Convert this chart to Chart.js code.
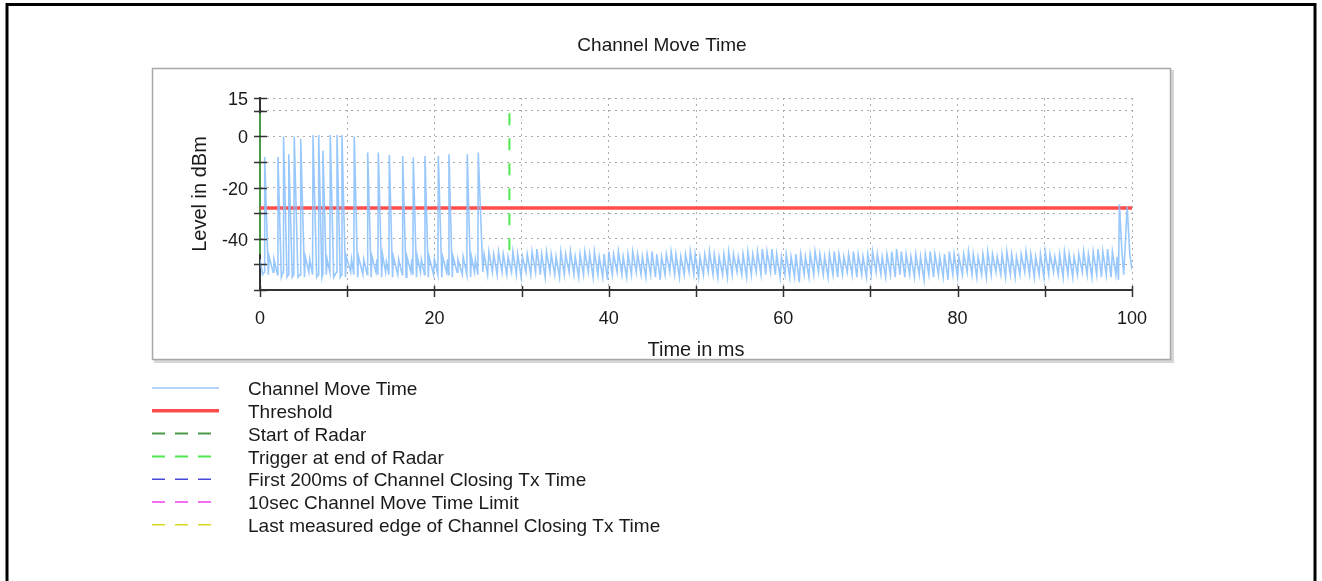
<!DOCTYPE html>
<html>
<head>
<meta charset="utf-8">
<script src="https://cdn.jsdelivr.net/npm/chart.js@4.4.1/dist/chart.umd.min.js"></script>
<style>
  html, body { margin: 0; padding: 0; background: #fff; }
  #wrap { position: relative; width: 1322px; height: 581px; }
</style>
</head>
<body>
<div id="wrap"><canvas id="chart" width="1322" height="581"></canvas></div>
<script>
// --- data ---
const chartTitle = "Channel Move Time";
const xTitle = "Time in ms";
const yTitle = "Level in dBm";
const xTickValues = [0, 10, 20, 30, 40, 50, 60, 70, 80, 90, 100];
const xLabelValues = [0, 20, 40, 60, 80, 100];
const yTickValues = [15, 10, 0, -10, -20, -30, -40, -50, -60];
const yLabelValues = [15, 0, -20, -40];
const thresholdLevel = -28;
const startOfRadarMs = 0;
const triggerMs = 28.6;
const markerTop = 9;
const markerBottom = -46;

// [time ms, level dBm]
const trace = [
  [0,-48],[0.3,-54],[0.49,-53],[0.54,-8],[0.95,-54],[1.05,-47],[1.5,-53],[1.6,-48],[2.01,-54],[2.06,-8],
  [2.45,-55],[2.65,-53],[2.7,0],[3.1,-55],[3.25,-54],[3.3,-7],[3.7,-55],[3.88,-54],[3.93,0],[4.35,-55],
  [4.62,-54],[4.67,-1],[5.1,-55],[5.2,-47],[5.6,-53],[5.7,-48],[6.03,-54],[6.08,0.5],[6.5,-55],[6.68,-54],
  [6.73,0.5],[7.1,-55],[7.17,-54],[7.22,-5.5],[7.6,-54],[7.7,-48],[8.01,-53],[8.06,0.5],[8.45,-55],[8.78,-53],
  [8.83,0.5],[9.2,-55],[9.35,-54],[9.4,0.5],[9.8,-55],[9.9,-47],[10.4,-53],[10.5,-48],[10.76,-54],[10.81,0],
  [11.2,-55],[11.3,-47],[11.8,-54],[11.9,-48],[12.3,-54],[12.35,-6.3],[12.75,-55],[12.85,-47],[13.3,-53],[13.4,-48],
  [13.52,-54],[13.57,-6.3],[13.95,-55],[14.05,-46],[14.4,-53],[14.5,-49],[14.78,-54],[14.83,-7.3],[15.2,-55],[15.3,-47],
  [15.8,-54],[15.9,-48],[16.31,-54],[16.36,-7.7],[16.75,-55],[16.85,-47],[17.3,-53],[17.4,-48],[17.53,-54],[17.58,-8.2],
  [17.95,-55],[18.05,-47],[18.4,-53],[18.5,-48],[18.87,-54],[18.92,-7.7],[19.3,-55],[19.4,-47],[19.9,-54],[20.0,-48],
  [20.4,-54],[20.45,-7.7],[20.85,-55],[20.95,-47],[21.4,-53],[21.5,-48],[21.62,-54],[21.67,-7],[22.05,-55],[22.15,-47],
  [22.6,-53],[22.7,-48],[23.2,-54],[23.3,-47],[23.72,-54],[23.77,-7],[24.15,-55],[24.25,-47],[24.6,-53],[24.7,-48],
  [24.98,-54],[25.03,-6.3],[25.55,-53],
  [25.7,-46],[26.1,-54],[26.25,-45],[26.65,-53],[26.8,-46],[27.2,-54],[27.35,-45],[27.75,-53],[27.9,-46],[28.3,-54],
  [28.45,-47],[28.85,-53],[29.0,-45],[29.4,-54],[29.55,-46],[29.95,-55],[30.1,-47],[30.5,-53],[30.65,-46],[31.05,-54],
  [31.2,-45],[31.6,-53],[31.75,-44],[32.15,-54],[32.3,-46],[32.7,-55],[32.85,-45],[33.25,-53],[33.4,-46],[33.8,-54],
  [33.95,-47],[34.35,-55],[34.5,-45],[34.9,-54],[35.05,-46],[35.45,-53],[35.6,-45],[36.0,-54],[36.15,-47],[36.55,-55],
  [36.7,-46],[37.1,-54],[37.25,-45],[37.65,-53],[37.8,-46],[38.2,-55],[38.35,-45],[38.75,-54],[38.9,-47],[39.3,-55],
  [39.45,-46],[39.85,-56],[40.0,-45],[40.4,-54],[40.55,-46],[40.95,-53],[41.1,-45],[41.5,-54],[41.65,-47],[42.05,-55],
  [42.2,-46],[42.6,-54],[42.75,-45],[43.15,-53],[43.3,-46],[43.7,-54],[43.85,-47],[44.25,-55],[44.4,-46],[44.8,-54],
  [44.95,-45],[45.35,-55],[45.5,-46],[45.9,-56],[46.05,-47],[46.45,-54],[46.6,-46],[47.0,-53],[47.15,-45],[47.55,-54],
  [47.7,-46],[48.1,-55],[48.25,-47],[48.65,-54],[48.8,-46],[49.2,-53],[49.35,-45],[49.75,-54],[49.9,-46],[50.3,-55],
  [50.45,-47],[50.85,-54],[51.0,-46],[51.4,-53],[51.55,-45],[51.95,-54],[52.1,-46],[52.5,-55],[52.65,-47],[53.05,-54],
  [53.2,-46],[53.6,-55],[53.75,-45],[54.15,-54],[54.3,-46],[54.7,-53],[54.85,-47],[55.25,-54],[55.4,-46],[55.8,-55],
  [55.95,-45],[56.35,-54],[56.5,-46],[56.9,-53],[57.05,-45],[57.45,-54],[57.6,-44],[58.0,-54],[58.15,-45],[58.55,-53],
  [58.7,-44],[59.1,-54],[59.25,-46],[59.65,-55],[59.8,-47],[60.2,-54],[60.35,-46],[60.75,-55],[60.9,-47],[61.3,-55],
  [61.45,-46],[61.85,-57],[62.0,-46],[62.4,-54],[62.55,-47],[62.95,-55],[63.1,-46],[63.5,-54],[63.65,-45],[64.05,-53],
  [64.2,-46],[64.6,-54],[64.75,-47],[65.15,-55],[65.3,-46],[65.7,-54],[65.85,-45],[66.25,-55],[66.4,-46],[66.8,-54],
  [66.95,-47],[67.35,-53],[67.5,-46],[67.9,-54],[68.05,-45],[68.45,-55],[68.6,-46],[69.0,-54],[69.15,-47],[69.55,-55],
  [69.7,-46],[70.1,-54],[70.25,-45],[70.65,-53],[70.8,-46],[71.2,-54],[71.35,-47],[71.75,-55],[71.9,-46],[72.3,-54],
  [72.45,-45],[72.85,-55],[73.0,-44],[73.4,-54],[73.55,-45],[73.95,-55],[74.1,-46],[74.5,-54],[74.65,-47],[75.05,-55],
  [75.2,-46],[75.6,-54],[75.75,-47],[76.15,-56],[76.3,-46],[76.7,-54],[76.85,-45],[77.25,-55],[77.4,-46],[77.8,-54],
  [77.95,-47],[78.35,-55],[78.5,-46],[78.9,-56],[79.05,-45],[79.45,-54],[79.6,-46],[80.0,-55],[80.15,-47],[80.55,-54],
  [80.7,-46],[81.1,-53],[81.25,-45],[81.65,-54],[81.8,-46],[82.2,-55],[82.35,-47],[82.75,-54],[82.9,-46],[83.3,-55],
  [83.45,-45],[83.85,-54],[84.0,-46],[84.4,-53],[84.55,-47],[84.95,-54],[85.1,-46],[85.5,-55],[85.65,-45],[86.05,-54],
  [86.2,-46],[86.6,-55],[86.75,-47],[87.15,-54],[87.3,-46],[87.7,-53],[87.85,-45],[88.25,-54],[88.4,-46],[88.8,-55],
  [88.95,-47],[89.35,-54],[89.5,-46],[89.9,-55],[90.05,-45],[90.45,-54],[90.6,-46],[91.0,-53],[91.15,-47],[91.55,-54],
  [91.7,-46],[92.1,-55],[92.25,-45],[92.65,-54],[92.8,-46],[93.2,-55],[93.35,-47],[93.75,-54],[93.9,-46],[94.3,-53],
  [94.45,-45],[94.85,-54],[95.0,-46],[95.4,-55],[95.55,-45],[95.95,-54],[96.1,-44],[96.5,-55],[96.65,-45],[97.05,-54],
  [97.2,-44],[97.6,-55],[97.75,-45],[98.15,-54],[98.3,-47],[98.45,-56],[98.55,-26.5],[98.85,-45],[99.05,-54],[99.45,-27.5],
  [99.75,-46],[100,-52]
];

// --- drawing helpers ---
const FONT = "'Liberation Sans', Arial, sans-serif";

const pagePlugin = {
  id: "page",
  beforeDraw(chart) {
    const ctx = chart.ctx;
    ctx.save();
    ctx.fillStyle = "#fff";
    ctx.fillRect(0, 0, chart.width, chart.height);
    // outer black frame
    ctx.strokeStyle = "#000";
    ctx.lineWidth = 3;
    ctx.beginPath();
    ctx.moveTo(7, 600);
    ctx.lineTo(7, 4.5);
    ctx.lineTo(1315, 4.5);
    ctx.lineTo(1315, 600);
    ctx.stroke();
    // gray panel round the plot
    ctx.fillStyle = "#d6d6d6";
    ctx.fillRect(154, 70, 1020, 293);
    ctx.fillStyle = "#fff";
    ctx.fillRect(152, 68, 1019, 292);
    ctx.strokeStyle = "#a8a8a8";
    ctx.lineWidth = 1.5;
    ctx.strokeRect(152.5, 68.5, 1018, 291);
    ctx.restore();
  },
  afterDatasetsDraw(chart) {
    // axis tick marks crossing the axis lines
    const { ctx, scales: { x, y } } = chart;
    ctx.save();
    ctx.strokeStyle = "#333";
    ctx.lineWidth = 1.5;
    ctx.beginPath();
    xTickValues.forEach((v) => {
      const px = Math.round(x.getPixelForValue(v)) + 0.5;
      ctx.moveTo(px, y.bottom - 4);
      ctx.lineTo(px, y.bottom + 7);
    });
    yTickValues.forEach((v) => {
      const py = Math.round(y.getPixelForValue(v)) + 0.5;
      ctx.moveTo(x.left - 6, py);
      ctx.lineTo(x.left + 7, py);
    });
    ctx.stroke();
    ctx.restore();
  },
  afterDraw(chart) {
    const ctx = chart.ctx;
    ctx.save();
    ctx.fillStyle = "#1a1a1a";
    ctx.font = "19px " + FONT;
    ctx.textAlign = "center";
    ctx.textBaseline = "middle";
    ctx.fillText(chartTitle, 662, 46);

    // legend under the panel
    ctx.textAlign = "left";
    chart.data.datasets.forEach((ds, i) => {
      const ly = 388 + i * 22.8;
      const dash = ds.legendDash || ds.borderDash;
      ctx.save();
      ctx.strokeStyle = ds.borderColor;
      ctx.lineWidth = Math.max(1.2, ds.borderWidth);
      ctx.setLineDash(dash || []);
      ctx.beginPath();
      ctx.moveTo(152, ly);
      ctx.lineTo(dash ? 215 : 219, ly);
      ctx.stroke();
      ctx.restore();
      ctx.fillStyle = "#1a1a1a";
      ctx.fillText(ds.label, 248, ly + 2);
    });
    ctx.restore();
  }
};

const markerLine = (ms) => [{ x: ms, y: markerTop }, { x: ms, y: markerBottom }];

new Chart(document.getElementById("chart"), {
  type: "line",
  data: {
    datasets: [
      {
        label: "Channel Move Time",
        data: trace.map(([t, v]) => ({ x: t, y: v })),
        borderColor: "rgba(135,190,252,0.85)",
        borderWidth: 1.6,
        pointRadius: 0,
        tension: 0,
      },
      {
        label: "Threshold",
        data: [{ x: 0, y: thresholdLevel }, { x: 100, y: thresholdLevel }],
        borderColor: "#ff4d4d",
        borderWidth: 3.5,
        pointRadius: 0,
      },
      {
        label: "Start of Radar",
        data: markerLine(startOfRadarMs),
        borderColor: "#4a9a4a",
        borderWidth: 2,
        legendDash: [13, 10],
        pointRadius: 0,
        clip: false,
      },
      {
        label: "Trigger at end of Radar",
        data: markerLine(triggerMs),
        borderColor: "#4fe84f",
        borderWidth: 2,
        borderDash: [12, 13],
        legendDash: [13, 10],
        pointRadius: 0,
      },
      {
        label: "First 200ms of Channel Closing Tx Time",
        data: [],
        borderColor: "#4848d8",
        borderWidth: 1.5,
        borderDash: [13, 10],
        pointRadius: 0,
      },
      {
        label: "10sec Channel Move Time Limit",
        data: [],
        borderColor: "#ee40ee",
        borderWidth: 1.5,
        borderDash: [13, 10],
        pointRadius: 0,
      },
      {
        label: "Last measured edge of Channel Closing Tx Time",
        data: [],
        borderColor: "#d8d820",
        borderWidth: 1.5,
        borderDash: [13, 10],
        pointRadius: 0,
      },
    ],
  },
  options: {
    responsive: false,
    animation: false,
    layout: { padding: { left: 170, right: 190, top: 98, bottom: 216 } },
    plugins: {
      legend: { display: false },
      title: { display: false },
      tooltip: { enabled: false },
    },
    scales: {
      x: {
        type: "linear",
        min: 0,
        max: 100,
        afterBuildTicks: (s) => { s.ticks = xTickValues.map((v) => ({ value: v })); },
        afterFit: (s) => { s.height = 75; },
        ticks: {
          autoSkip: false,
          maxRotation: 0,
          padding: 18,
          color: "#1a1a1a",
          font: { size: 18, family: FONT },
          callback: (v) => (xLabelValues.includes(v) ? String(v) : ""),
        },
        grid: { color: "#adadad", lineWidth: 1, drawTicks: false },
        border: { display: true, color: "#333", width: 2, dash: [2, 4] },
        title: {
          display: true,
          text: xTitle,
          color: "#1a1a1a",
          font: { size: 20, family: FONT },
          padding: { top: 0, bottom: 3 },
        },
      },
      y: {
        min: -60,
        max: 15,
        afterBuildTicks: (s) => { s.ticks = yTickValues.map((v) => ({ value: v })); },
        afterFit: (s) => { s.width = 90; },
        ticks: {
          autoSkip: false,
          padding: 12,
          labelOffset: 2,
          color: "#1a1a1a",
          font: { size: 18, family: FONT },
          callback: (v) => (yLabelValues.includes(v) ? String(v) : ""),
        },
        grid: { color: "#adadad", lineWidth: 1, drawTicks: false },
        border: { display: true, color: "#333", width: 2, dash: [2, 4] },
        title: {
          display: true,
          text: yTitle,
          color: "#1a1a1a",
          font: { size: 20, family: FONT },
          padding: { top: 18, bottom: 0 },
        },
      },
    },
  },
  plugins: [pagePlugin],
});
</script>
</body>
</html>
